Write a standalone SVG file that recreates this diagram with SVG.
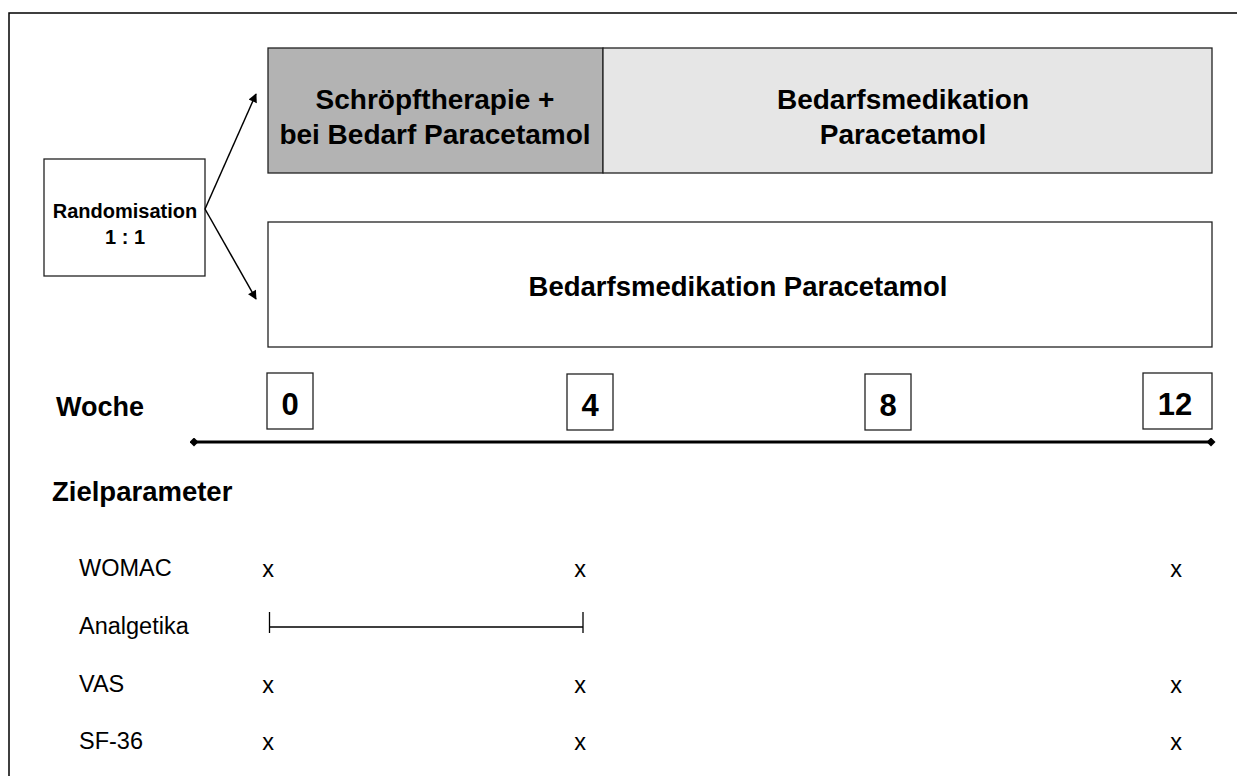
<svg xmlns="http://www.w3.org/2000/svg" width="1237" height="776" viewBox="0 0 1237 776">
<style>
.box{stroke:#222;stroke-width:1.3}
.b{font-family:"Liberation Sans",Arial,sans-serif;font-weight:bold;fill:#000}
.n{font-family:"Liberation Sans",Arial,sans-serif;fill:#000;font-size:23.5px}
.ln{stroke:#000;fill:none}
</style>
<defs>
<marker id="ah" viewBox="0 0 10 10" refX="9" refY="5" markerWidth="11" markerHeight="9" orient="auto" markerUnits="userSpaceOnUse"><path d="M0,0 L10,5 L0,10 z" fill="#000"/></marker>
<marker id="dm" viewBox="0 0 10 10" refX="5" refY="5" markerWidth="9" markerHeight="9" orient="auto" markerUnits="userSpaceOnUse"><path d="M0,5 L5,0 L10,5 L5,10 z" fill="#000"/></marker>
</defs>
<rect width="1237" height="776" fill="#fff"/>
<rect x="9" y="13" width="1240" height="800" fill="none" stroke="#000" stroke-width="1.5"/>
<g id="randomisation">
<rect class="box" x="44" y="159" width="161" height="117" fill="#fff"/>
<text class="b" x="125" y="218" font-size="20" text-anchor="middle">Randomisation</text>
<text class="b" x="125" y="244" font-size="20" text-anchor="middle">1 : 1</text>
</g>
<g id="schroepf">
<rect class="box" x="268" y="48" width="335" height="125" fill="#b3b3b3"/>
<text class="b" x="435" y="109" font-size="28" text-anchor="middle">Schröpftherapie +</text>
<text class="b" x="435" y="144" font-size="28" text-anchor="middle">bei Bedarf Paracetamol</text>
</g>
<g id="bedarf1">
<rect class="box" x="603" y="48" width="609" height="125" fill="#e6e6e6"/>
<text class="b" x="903" y="109" font-size="28" text-anchor="middle">Bedarfsmedikation</text>
<text class="b" x="903" y="144" font-size="28" text-anchor="middle">Paracetamol</text>
</g>
<g id="bedarf2">
<rect class="box" x="268" y="222" width="944" height="125" fill="#fff"/>
<text class="b" x="738" y="296" font-size="27.5" text-anchor="middle">Bedarfsmedikation Paracetamol</text>
</g>
<g id="connectors">
<line class="ln" x1="205" y1="209" x2="256" y2="94" stroke-width="1.5" marker-end="url(#ah)"/>
<line class="ln" x1="205" y1="209" x2="256" y2="299" stroke-width="1.5" marker-end="url(#ah)"/>
<line class="ln" x1="194" y1="442" x2="1211" y2="442" stroke-width="3" marker-start="url(#dm)" marker-end="url(#dm)"/>
</g>
<text class="b" x="56" y="416" font-size="27">Woche</text>
<g id="w0"><rect class="box" x="267" y="373" width="46" height="56" fill="#fff"/><text class="b" x="290" y="415" font-size="31" text-anchor="middle">0</text></g>
<g id="w4"><rect class="box" x="567" y="374" width="46" height="56" fill="#fff"/><text class="b" x="590" y="416" font-size="31" text-anchor="middle">4</text></g>
<g id="w8"><rect class="box" x="865" y="374" width="46" height="56" fill="#fff"/><text class="b" x="888" y="416" font-size="31" text-anchor="middle">8</text></g>
<g id="w12"><rect class="box" x="1143" y="373" width="69" height="56" fill="#fff"/><text class="b" x="1175" y="415" font-size="31" text-anchor="middle">12</text></g>
<text class="b" x="52" y="501" font-size="27.5">Zielparameter</text>
<g id="rows">
<text class="n" x="79" y="576">WOMAC</text>
<text class="n" x="79" y="634">Analgetika</text>
<text class="n" x="79" y="692">VAS</text>
<text class="n" x="79" y="749">SF-36</text>
<g class="n" text-anchor="middle">
<text x="268" y="577">x</text><text x="580" y="577">x</text><text x="1176" y="577">x</text>
<text x="268" y="693">x</text><text x="580" y="693">x</text><text x="1176" y="693">x</text>
<text x="268" y="750">x</text><text x="580" y="750">x</text><text x="1176" y="750">x</text>
</g>
<path class="ln" d="M269.5,612 V633 M269.5,627 H583 M583,612 V633" stroke-width="1.3"/>
</g>
</svg>
